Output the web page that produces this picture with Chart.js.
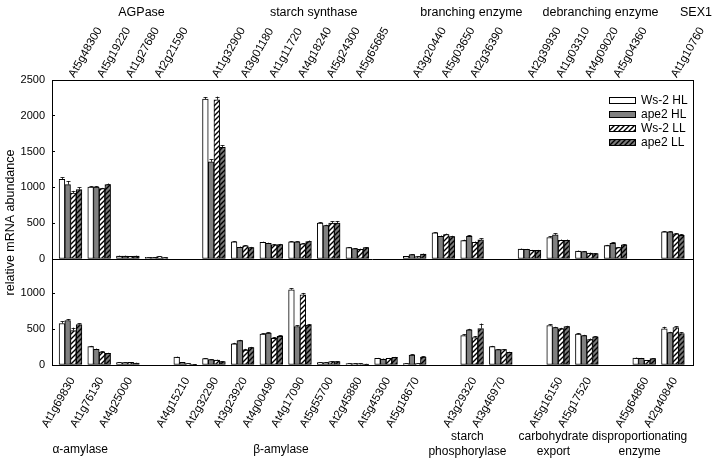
<!DOCTYPE html>
<html lang="en">
<head>
<meta charset="UTF-8">
<title>Starch metabolism transcripts</title>
<script src="https://cdn.jsdelivr.net/npm/chart.js@4"></script>
<style>
  html, body { margin: 0; padding: 0; background: #fff; }
  #wrap { width: 714px; height: 466px; position: relative; }
</style>
</head>
<body>
<div id="wrap"><canvas id="chart"></canvas></div>
<script>
// series
const seriesNames = ['Ws-2 HL', 'ape2 HL', 'Ws-2 LL', 'ape2 LL'];

// y ticks of the two panels
const topTicks = [0, 500, 1000, 1500, 2000, 2500];
const botTicks = [0, 500, 1000];

// upper panel: 22 slots, '' = empty slot
const topGenes = ['At5g48300', 'At5g19220', 'At1g27680', 'At2g21590', '',
  'At1g32900', 'At3g01180', 'At1g11720', 'At4g18240', 'At5g24300', 'At5g65685', '',
  'At3g20440', 'At5g03650', 'At2g36390', '',
  'At2g39930', 'At1g03310', 'At4g09020', 'At5g04360', '',
  'At1g10760'];
const topWs2HL  = [1114, 1006, 42, 23, null, 2232, 239, 234, 239, 501, 159, null, 37, 365, 257, null, 140, 300, 112, 187, null, 379];
const topApe2HL = [1039, 1006, 42, 23, null, 1357, 164, 220, 239, 468, 145, null, 61, 318, 318, null, 136, 337, 103, 220, null, 379];
const topWs2LL  = [922, 983, 37, 33, null, 2223, 183, 197, 211, 501, 136, null, 33, 342, 234, null, 122, 262, 84, 159, null, 351];
const topApe2LL = [969, 1039, 42, 19, null, 1558, 159, 201, 243, 501, 159, null, 70, 314, 267, null, 122, 262, 75, 197, null, 332];
const topWs2HLErr  = [25, 10, 5, 4, null, 30, 10, 8, 10, 12, 8, null, 4, 10, 12, null, 6, 15, 6, 10, null, 10];
const topApe2HLErr = [50, 12, 5, 3, null, 35, 10, 8, 8, 10, 6, null, 5, 10, 15, null, 5, 20, 6, 12, null, 8];
const topWs2LLErr  = [30, 10, 5, 4, null, 45, 10, 8, 10, 25, 8, null, 4, 12, 10, null, 5, 10, 5, 8, null, 12];
const topApe2LLErr = [30, 15, 5, 3, null, 30, 10, 10, 15, 30, 8, null, 6, 10, 20, null, 5, 10, 5, 10, null, 15];

// lower panel
const botGenes = ['At1g69830', 'At1g76130', 'At4g25000', '',
  'At4g15210', 'At2g32290', 'At3g23920', 'At4g00490', 'At4g17090', 'At5g55700', 'At2g45880', 'At5g45300', 'At5g18670', '',
  'At3g29320', 'At3g46970', '',
  'At5g16150', 'At5g17520', '',
  'At5g64860', 'At2g40840'];
const botWs2HL  = [579, 257, 33, null, 112, 89, 294, 430, 1051, 33, 19, 93, 19, null, 411, 257, null, 551, 430, null, 98, 504];
const botApe2HL = [621, 219, 33, null, 37, 75, 341, 444, 537, 33, 19, 84, 140, null, 490, 215, null, 523, 411, null, 93, 453];
const botWs2LL  = [481, 182, 37, null, 19, 70, 210, 374, 981, 47, 19, 93, 19, null, 383, 215, null, 504, 355, null, 65, 523];
const botApe2LL = [565, 163, 28, null, 9, 47, 243, 402, 556, 47, 14, 107, 112, null, 509, 177, null, 537, 392, null, 89, 439];
const botWs2HLErr  = [30, 10, 4, null, 5, 5, 15, 10, 20, 4, 3, 6, 4, null, 15, 10, null, 15, 15, null, 6, 30];
const botApe2HLErr = [20, 10, 4, null, 4, 5, 10, 10, 15, 4, 3, 6, 8, null, 15, 8, null, 10, 10, null, 6, 10];
const botWs2LLErr  = [40, 8, 4, null, 3, 5, 15, 15, 25, 4, 3, 6, 3, null, 20, 8, null, 15, 15, null, 5, 15];
const botApe2LLErr = [15, 8, 4, null, 2, 5, 10, 10, 15, 4, 3, 6, 8, null, 70, 8, null, 10, 10, null, 6, 20];

// group titles and the slots they cover
const topGroupNames = ['AGPase', 'starch synthase', 'branching enzyme', 'debranching enzyme', 'SEX1'];
const topGroupSlots = [[0, 3], [5, 10], [12, 14], [16, 19], [21, 21]];
const botGroupNames = [['α-amylase'], ['β-amylase'], ['starch', 'phosphorylase'], ['carbohydrate', 'export'], ['disproportionating', 'enzyme']];
const botGroupSlots = [[0, 2], [4, 12], [14, 15], [17, 18], [20, 21]];

const FONT = "'Liberation Sans', Arial, sans-serif";
Chart.defaults.font.family = FONT;
Chart.defaults.color = '#000';

const canvas = document.getElementById('chart');
const ctx = canvas.getContext('2d');

function hatch(bg) {
    const t = document.createElement('canvas');
    t.width = t.height = 5;
    const g = t.getContext('2d');
    g.fillStyle = bg;
    g.fillRect(0, 0, 5, 5);
    g.strokeStyle = '#000';
    g.lineWidth = 1.4;
    g.beginPath();
    g.moveTo(-1, 6); g.lineTo(6, -1);
    g.moveTo(-1, 1); g.lineTo(1, -1);
    g.moveTo(4, 6); g.lineTo(6, 4);
    g.stroke();
    return ctx.createPattern(t, 'repeat');
}

const fills = ['#ffffff', '#808080', hatch('#ffffff'), hatch('#7a7a7a')];

function points(vals) {
    return vals.map((v, i) => ({ x: i, y: v })).filter(p => p.y !== null);
}

// every dataset sits on the one slot axis (xBot) so both panels group alike;
// xTop only carries the upper gene names
function makeSet(i, vals, errs, panel) {
    return {
        label: seriesNames[i],
        stack: 's' + i,
        data: points(vals),
        errors: errs,
        xAxisID: 'xBot',
        yAxisID: panel === 'top' ? 'yTop' : 'yBot',
        backgroundColor: fills[i],
        borderColor: '#000',
        borderWidth: 1,
        borderSkipped: false,
        barThickness: 5.7,
        showInLegend: panel === 'top'
    };
}

// error bars (upward T)
const errorBars = {
    id: 'errorBars',
    afterDatasetsDraw(chart) {
        const c = chart.ctx;
        c.save();
        c.strokeStyle = '#000';
        c.lineWidth = 0.8;
        chart.data.datasets.forEach((ds, di) => {
            const meta = chart.getDatasetMeta(di);
            const ys = chart.scales[meta.yAxisID];
            meta.data.forEach((bar, j) => {
                const p = ds.data[j];
                const e = ds.errors[p.x];
                if (!e) return;
                const yTop = ys.getPixelForValue(p.y + e);
                const x = Math.round(bar.x) + 0.5;
                c.beginPath();
                c.moveTo(x, bar.y);
                c.lineTo(x, yTop);
                c.moveTo(x - 2, Math.round(yTop) + 0.5);
                c.lineTo(x + 2, Math.round(yTop) + 0.5);
                c.stroke();
            });
        });
        c.restore();
    }
};

// frame, divider, legend, titles
const decor = {
    id: 'decor',
    afterDraw(chart) {
        const c = chart.ctx;
        const a = chart.chartArea;
        const xt = chart.scales.xTop, xb = chart.scales.xBot;
        const midY = Math.round(chart.scales.yTop.getPixelForValue(0)) + 0.5;
        c.save();
        c.strokeStyle = '#000';
        c.lineWidth = 1;
        c.strokeRect(Math.round(a.left) + 0.5, Math.round(a.top) + 0.5,
            Math.round(a.right - a.left), Math.round(a.bottom - a.top));
        c.beginPath();
        c.moveTo(a.left, midY);
        c.lineTo(a.right, midY);
        c.stroke();

        // legend
        c.font = '12px ' + FONT;
        c.textAlign = 'left';
        c.textBaseline = 'alphabetic';
        chart.data.datasets.filter(d => d.showInLegend).forEach((d, i) => {
            const sx = a.right - 84, sy = 97 + i * 14;
            c.fillStyle = d.backgroundColor;
            c.fillRect(sx, sy, 26, 6);
            c.strokeRect(sx + 0.5, sy + 0.5, 26, 6);
            c.fillStyle = '#000';
            c.fillText(d.label, sx + 32, sy + 7);
        });

        // y title
        c.save();
        c.translate(11, (a.top + a.bottom) / 2);
        c.rotate(-Math.PI / 2);
        c.textAlign = 'center';
        c.textBaseline = 'middle';
        c.font = '12.5px ' + FONT;
        c.fillText('relative mRNA abundance', 0, 0);
        c.restore();

        // group titles
        c.font = '12.5px ' + FONT;
        c.textAlign = 'center';
        c.textBaseline = 'middle';
        topGroupNames.forEach((name, i) => {
            const [s, e] = topGroupSlots[i];
            let x = (xt.getPixelForValue(s) + xt.getPixelForValue(e)) / 2 + 28;
            const w = c.measureText(name).width;
            x = Math.min(x, 712 - w / 2);
            c.fillText(name, x, 13);
        });
        c.font = '12px ' + FONT;
        botGroupNames.forEach((lines, i) => {
            const [s, e] = botGroupSlots[i];
            let x = (xb.getPixelForValue(s) + xb.getPixelForValue(e)) / 2 - 19;
            const w = Math.max(...lines.map(l => c.measureText(l).width));
            x = Math.min(x, a.right - w / 2);
            if (lines.length === 1) {
                c.fillText(lines[0], x, 450);
            } else {
                c.fillText(lines[0], x, 437);
                c.fillText(lines[1], x, 452);
            }
        });
        c.restore();
    }
};

function slotTicks(genes) {
    return genes.map((g, i) => ({ value: i, g })).filter(t => t.g !== '').map(t => ({ value: t.value }));
}

function xAxis(pos, genes, h, shift, pad) {
    return {
        type: 'linear',
        position: pos,
        offset: false,
        min: -0.645,
        max: 21.70,
        grid: { display: false, offset: false },
        border: { display: false },
        afterBuildTicks: s => { s.ticks = slotTicks(genes); },
        afterFit: s => { s.height = h; },
        ticks: {
            stepSize: 1,
            autoSkip: false,
            minRotation: 60,
            maxRotation: 60,
            padding: pad,
            labelOffset: shift,
            font: { size: 11.5 },
            color: '#000',
            callback: v => genes[v] || ''
        }
    };
}

function yAxis(max, weight, tickVals) {
    return {
        type: 'linear',
        position: 'left',
        stack: 'panels',
        stackWeight: weight,
        stacked: false,
        min: 0,
        max: max,
        border: { display: false },
        grid: { drawOnChartArea: false, tickLength: -3, color: '#000', lineWidth: 1 },
        afterBuildTicks: s => { s.ticks = tickVals.map(v => ({ value: v })); },
        afterFit: s => { s.width = 52; },
        ticks: {
            autoSkip: false,
            padding: 10,
            font: { size: 11 },
            color: '#000',
            callback: v => String(v)
        }
    };
}

window.onload = function() {
    new Chart(canvas, {
        type: 'bar',
        data: {
            datasets: [
                makeSet(0, topWs2HL, topWs2HLErr, 'top'),
                makeSet(1, topApe2HL, topApe2HLErr, 'top'),
                makeSet(2, topWs2LL, topWs2LLErr, 'top'),
                makeSet(3, topApe2LL, topApe2LLErr, 'top'),
                makeSet(0, botWs2HL, botWs2HLErr, 'bot'),
                makeSet(1, botApe2HL, botApe2HLErr, 'bot'),
                makeSet(2, botWs2LL, botWs2LLErr, 'bot'),
                makeSet(3, botApe2LL, botApe2LLErr, 'bot')
            ]
        },
        options: {
            responsive: true,
            maintainAspectRatio: false,
            animation: false,
            layout: { padding: { left: 0, right: 21, top: 0, bottom: 0 } },
            plugins: { legend: { display: false }, tooltip: { enabled: false } },
            scales: {
                xTop: xAxis('top', topGenes, 80, 13, -8),
                xBot: xAxis('bottom', botGenes, 101, 2, 2),
                yBot: yAxis(1480, 106, botTicks),
                yTop: yAxis(2500, 179, topTicks)
            }
        },
        plugins: [errorBars, decor]
    });
};
</script>
</body>
</html>
